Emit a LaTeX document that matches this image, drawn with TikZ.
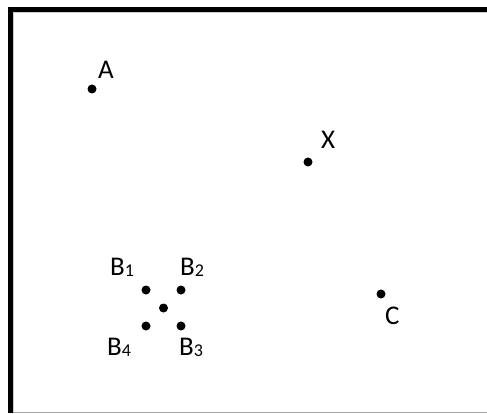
\documentclass[tikz,border=0pt]{standalone}
\usepackage{fontspec}
\setmainfont{Carlito}
\begin{document}
\begin{tikzpicture}[x=1pt,y=-1pt,
  dot/.style={circle,fill=black,inner sep=0pt,minimum size=9pt},
  lbl/.style={inner sep=0pt,anchor=base west,font=\fontsize{27}{27}\selectfont}]
\useasboundingbox (0,0) rectangle (487,414);
\fill[white] (0,0) rectangle (487,414);
% frame
\fill[black] (8,7) rectangle (487,12);
\fill[black] (8,7) rectangle (13,413);
\draw[gray!70,line width=1.5pt] (13,412.3) -- (487,412.3);
\draw[gray!40,line width=0.8pt] (13.5,12) -- (13.5,412);
\draw[gray!40,line width=0.8pt] (13,12.5) -- (487,12.5);
\newcommand{\sbs}[1]{{\fontsize{18}{18}\selectfont\raisebox{-1.5pt}{#1}}}
% points
\node[dot] (a) at (92,89) {};
\node[dot] (x) at (308,162) {};
\node[dot] (c) at (381,294) {};
\node[dot] (b1) at (146,290) {};
\node[dot] (b2) at (181,290) {};
\node[dot] (b0) at (163.5,308) {};
\node[dot] (b4) at (146,326) {};
\node[dot] (b3) at (181,326) {};
% labels
\node[lbl] (la) at (98,79) {A};
\node[lbl] (lx) at (321,149) {X};
\node[lbl] (lc) at (385,324) {C};
\node[lbl] (lb1) at (110,275) {B\sbs{1}};
\node[lbl] (lb2) at (180,275) {B\sbs{2}};
\node[lbl] (lb4) at (107,355) {B\sbs{4}};
\node[lbl] (lb3) at (179,355) {B\sbs{3}};
\end{tikzpicture}
\end{document}
